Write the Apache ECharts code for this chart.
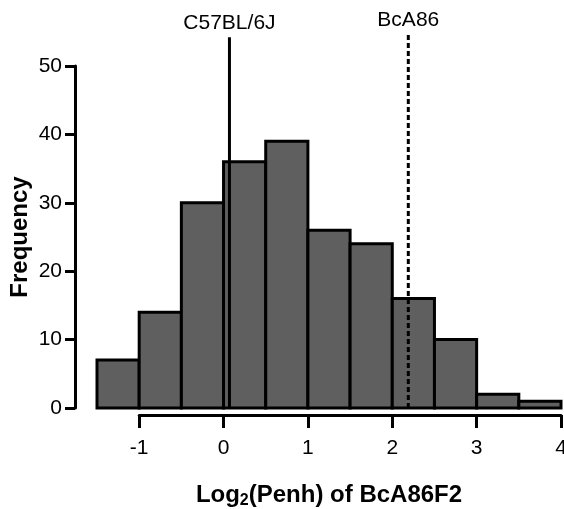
<!DOCTYPE html>
<html><head><meta charset="utf-8">
<script src="https://cdn.jsdelivr.net/npm/echarts@6/dist/echarts.min.js"></script>
<style>html,body{margin:0;padding:0;background:#fff}#c{width:564px;height:509px}</style>
</head><body><div id="c"></div>
<script>
var binStarts = [-1.5, -1, -0.5, 0, 0.5, 1, 1.5, 2, 2.5, 3, 3.5];
var binWidth = 0.5;
var frequencies = [7, 14, 30, 36, 39, 26, 24, 16, 10, 2, 1];
var xTicks = [-1, 0, 1, 2, 3, 4];
var yTicks = [0, 10, 20, 30, 40, 50];
var refNames = ['C57BL/6J', 'BcA86'];
var refValues = [0.07, 2.19];
var refTops = [54.2, 54.8];

var FONT = 'Liberation Sans, Arial, sans-serif';
var binData = binStarts.map(function (s, i) { return [s, s + binWidth, frequencies[i]]; });

var chart = echarts.init(document.getElementById('c'), null, {renderer: 'canvas'});
chart.setOption({
  backgroundColor: '#fff',
  animation: false,
  textStyle: {fontFamily: FONT},
  grid: [
    {left: 97, right: 3, top: 66, bottom: 101, containLabel: false, outerBoundsMode: 'none'},
    {left: 139.2, right: 3, top: 66, bottom: 101, containLabel: false, outerBoundsMode: 'none'}
  ],
  xAxis: [
    {
      type: 'value', gridIndex: 0, min: -1.5, max: 4,
      axisLine: {show: false}, axisTick: {show: false}, axisLabel: {show: false}, splitLine: {show: false},
      name: '{a|Log}{s|2}{a|(Penh) of BcA86F2}',
      nameLocation: 'middle', nameGap: 73, nameMoveOverlap: false,
      nameTextStyle: {
        rich: {
          a: {fontFamily: FONT, fontSize: 24, fontWeight: 'bold', color: '#000'},
          s: {fontFamily: FONT, fontSize: 16, fontWeight: 'bold', color: '#000', verticalAlign: 'bottom', padding: [12, 0, 0, 0]}
        }
      }
    },
    {
      type: 'value', gridIndex: 1, min: xTicks[0], max: xTicks[xTicks.length - 1], interval: 1,
      offset: 7,
      axisLine: {show: true, onZero: false, lineStyle: {color: '#000', width: 3}},
      axisTick: {show: true, length: 13, lineStyle: {color: '#000', width: 3}},
      axisLabel: {color: '#000', fontSize: 21, fontFamily: FONT, margin: 23},
      splitLine: {show: false}
    }
  ],
  yAxis: [
    {
      type: 'value', gridIndex: 0, min: yTicks[0], max: yTicks[yTicks.length - 1], interval: 10,
      offset: 22,
      axisLine: {show: true, onZero: false, lineStyle: {color: '#000', width: 3}},
      axisTick: {show: true, length: 10, lineStyle: {color: '#000', width: 3}},
      axisLabel: {color: '#000', fontSize: 21, fontFamily: FONT, margin: 13},
      splitLine: {show: false},
      name: 'Frequency', nameLocation: 'middle', nameGap: 43, nameMoveOverlap: false,
      nameTextStyle: {fontFamily: FONT, fontSize: 24, fontWeight: 'bold', color: '#000'}
    },
    {type: 'value', gridIndex: 1, min: 0, max: 50, show: false}
  ],
  series: [
    {
      type: 'custom', xAxisIndex: 0, yAxisIndex: 0,
      data: binData,
      encode: {x: [0, 1], y: 2},
      renderItem: function (params, api) {
        var p0 = api.coord([api.value(0), api.value(2)]);
        var p1 = api.coord([api.value(1), 0]);
        return {
          type: 'rect',
          shape: {x: p0[0], y: p0[1], width: p1[0] - p0[0], height: p1[1] - p0[1]},
          style: {fill: '#5f5f5f', stroke: '#000', lineWidth: 3}
        };
      },
      z: 2
    },
    {
      type: 'line', xAxisIndex: 0, yAxisIndex: 0, clip: false,
      data: [[refValues[0], 0], {value: [refValues[0], refTops[0]], label: {show: true, position: 'top', distance: 4, formatter: refNames[0], color: '#000', fontSize: 21, fontFamily: FONT}}],
      symbol: 'circle', symbolSize: 0.1, showSymbol: true,
      lineStyle: {color: '#000', width: 3, type: 'solid'},
      z: 5
    },
    {
      type: 'line', xAxisIndex: 0, yAxisIndex: 0, clip: false,
      data: [[refValues[1], 0], {value: [refValues[1], refTops[1]], label: {show: true, position: 'top', distance: 2, formatter: refNames[1], color: '#000', fontSize: 21, fontFamily: FONT}}],
      symbol: 'circle', symbolSize: 0.1, showSymbol: true,
      lineStyle: {color: '#000', width: 3, type: [5, 3]},
      z: 5
    }
  ]
});
</script></body></html>
